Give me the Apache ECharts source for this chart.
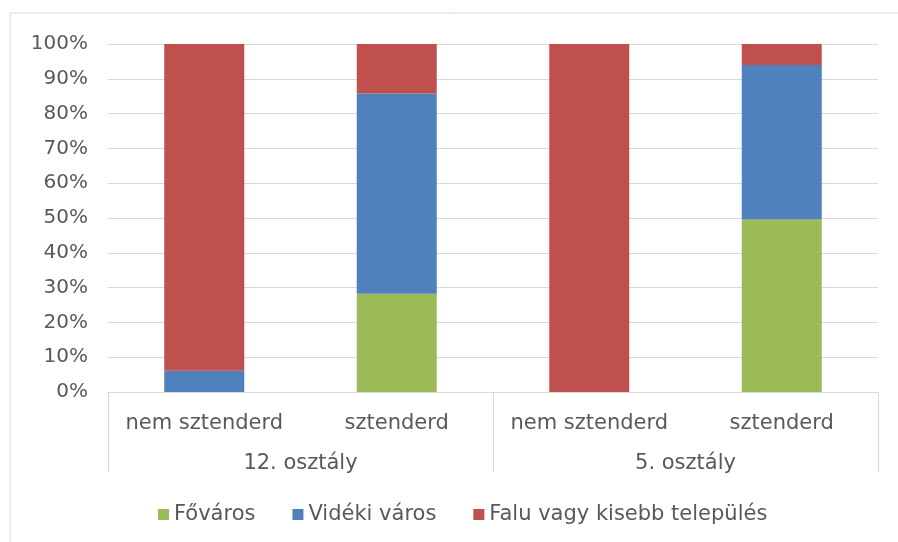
<!DOCTYPE html>
<html>
<head>
<meta charset="utf-8">
<script src="https://cdn.jsdelivr.net/npm/echarts@6/dist/echarts.min.js"></script>
<style>
  html, body { margin: 0; padding: 0; background: #fff; }
  #chart { width: 898px; height: 542px; }
</style>
</head>
<body>
<div id="chart"></div>
<script>
// adatok (százalék)
var categories = ['nem sztenderd', 'sztenderd', 'nem sztenderd', 'sztenderd'];
var groups = ['12. osztály', '5. osztály'];
var fovaros = [0, 28.2, 0, 49.6];
var videkiVaros = [6.1, 57.6, 0, 44.4];
var falu = [93.9, 14.2, 100, 6.0];
var yTicks = [0, 10, 20, 30, 40, 50, 60, 70, 80, 90, 100];

var chart = echarts.init(document.getElementById('chart'));

var textColor = '#595959';
var fontFam = '"DejaVu Sans", sans-serif';

function barSeries(name, data, color) {
  return {
    name: name,
    type: 'bar',
    stack: 'total',
    barWidth: 80,
    xAxisIndex: 0,
    itemStyle: { color: color },
    data: data
  };
}

var option = {
  animation: false,
  textStyle: { fontFamily: fontFam },
  graphic: [{
    type: 'rect',
    shape: { x: 10, y: 13, width: 900, height: 540 },
    style: { fill: 'none', stroke: '#d9d9d9', lineWidth: 1 },
    silent: true
  }],
  grid: { left: 108, right: 20, top: 44, bottom: 150 },
  legend: {
    top: 499,
    left: 153,
    itemWidth: 11,
    itemHeight: 11,
    itemGap: 37,
    icon: 'rect',
    textStyle: { color: textColor, fontSize: 21, fontFamily: fontFam },
    data: ['Főváros', 'Vidéki város', 'Falu vagy kisebb település']
  },
  xAxis: [
    {
      type: 'category',
      data: categories,
      axisLine: { lineStyle: { color: '#d9d9d9' } },
      axisTick: { show: false },
      axisLabel: { color: textColor, fontSize: 21, margin: 21, interval: 0 }
    },
    {
      type: 'category',
      data: groups,
      position: 'bottom',
      axisLine: { show: false },
      axisTick: { show: true, length: 80, interval: 0, lineStyle: { color: '#d9d9d9' } },
      axisLabel: { color: textColor, fontSize: 21, margin: 61, interval: 0 },
      splitLine: { show: false }
    }
  ],
  yAxis: {
    type: 'value',
    min: yTicks[0],
    max: yTicks[yTicks.length - 1],
    interval: 10,
    axisLine: { show: false },
    axisTick: { show: false },
    splitLine: { lineStyle: { color: '#d9d9d9' } },
    axisLabel: { color: textColor, fontSize: 20, margin: 20, formatter: '{value}%' }
  },
  series: [
    barSeries('Főváros', fovaros, '#9bbb59'),
    barSeries('Vidéki város', videkiVaros, '#4f81bd'),
    barSeries('Falu vagy kisebb település', falu, '#c0504d')
  ]
};

chart.setOption(option);
</script>
</body>
</html>
